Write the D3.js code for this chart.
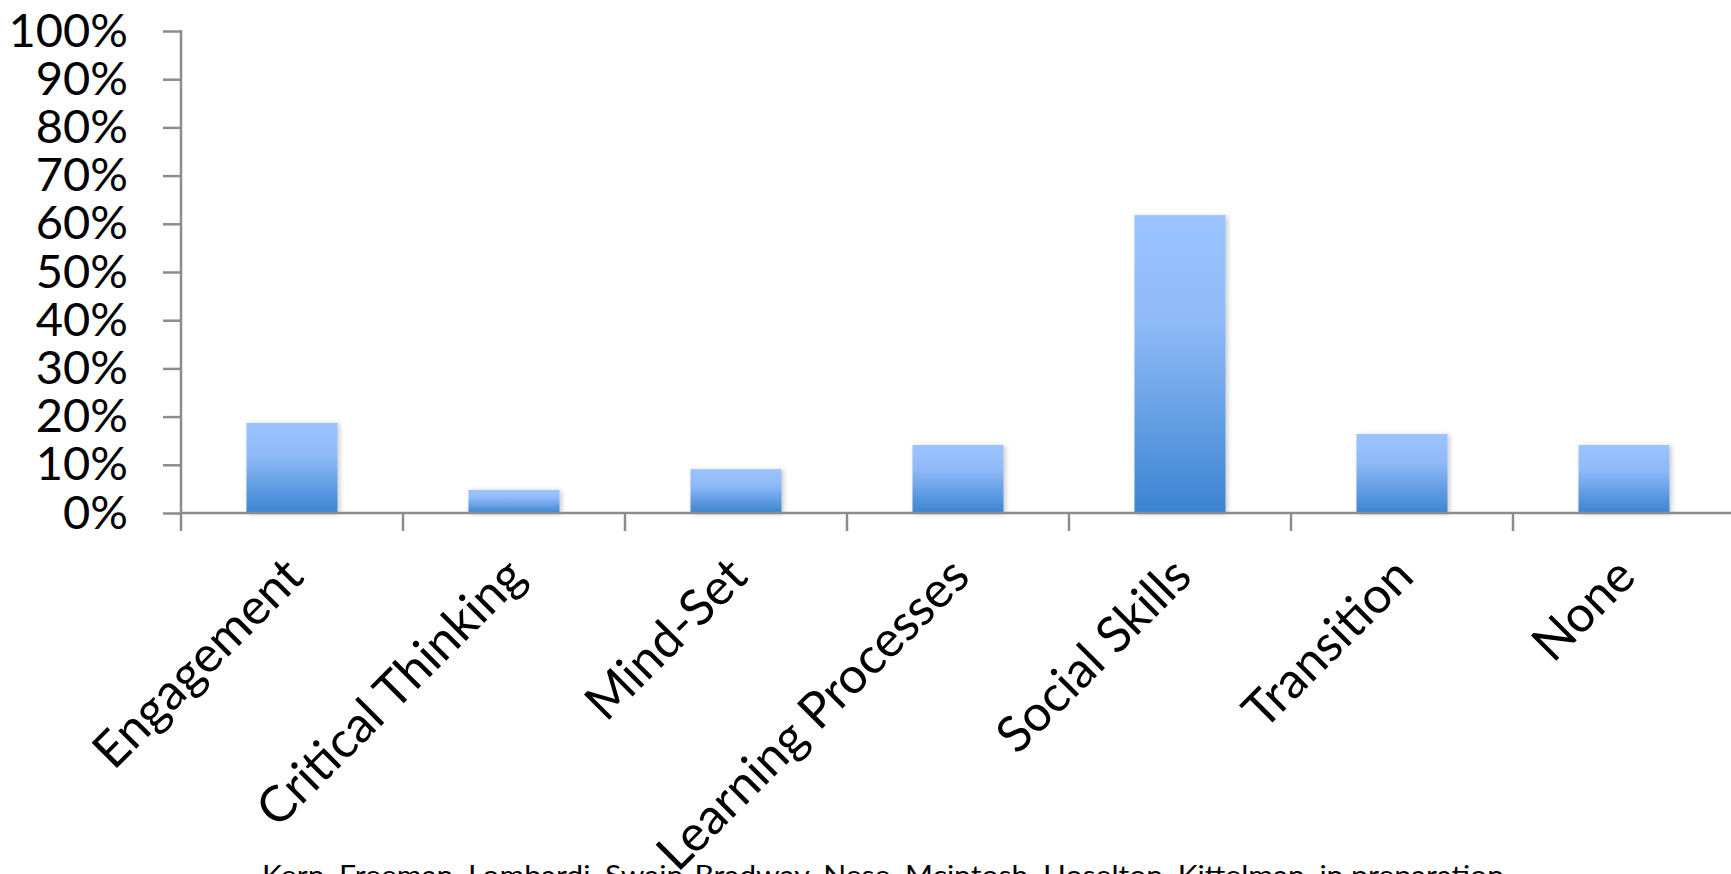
<!DOCTYPE html>
<html>
<head>
<meta charset="utf-8">
<script src="https://cdn.jsdelivr.net/npm/d3@7"></script>
<style>
  html, body { margin: 0; padding: 0; background: #fff; overflow: hidden; }
  svg { display: block; }
</style>
</head>
<body>
<div id="chart"></div>
<script>
// percentage bar chart, one bar per category

var categories = ['Engagement', 'Critical Thinking', 'Mind-Set', 'Learning Processes',
                  'Social Skills', 'Transition', 'None'];
var values = [18.7, 4.8, 9.1, 14.1, 61.8, 16.4, 14.1];
var yTicks = [0, 10, 20, 30, 40, 50, 60, 70, 80, 90, 100];
var footnote = 'Kern,  Freeman, Lombardi, Swain-Bradway, Nese, Mcintosh, Hoselton,  Kittelman, in preparation';

var width = 1731, height = 874;
var plotLeft = 181, plotRight = 1735, plotTop = 31, axisY = 513;
var font = 'Lato, "Open Sans", sans-serif';

var svg = d3.select('#chart').append('svg')
    .attr('width', width)
    .attr('height', height);

var defs = svg.append('defs');
var grad = defs.append('linearGradient')
    .attr('id', 'barFill')
    .attr('x1', 0).attr('y1', 0).attr('x2', 0).attr('y2', 1);
grad.append('stop').attr('offset', '0%').attr('stop-color', '#9cc3ff');
grad.append('stop').attr('offset', '35%').attr('stop-color', '#90bbf8');
grad.append('stop').attr('offset', '100%').attr('stop-color', '#3c84d1');

var shadow = defs.append('filter').attr('id', 'shadow')
    .attr('x', '-20%').attr('y', '-20%').attr('width', '140%').attr('height', '140%');
shadow.append('feDropShadow')
    .attr('dx', 2).attr('dy', 1).attr('stdDeviation', 2.5)
    .attr('flood-color', '#000').attr('flood-opacity', 0.22);

var x = d3.scaleBand()
    .domain(categories)
    .range([plotLeft, plotRight])
    .paddingInner(0.59)
    .paddingOuter(0.295);

var y = d3.scaleLinear()
    .domain([0, 100])
    .range([axisY, plotTop]);

// bars
svg.append('g').selectAll('rect')
    .data(values)
    .enter().append('rect')
    .attr('x', function(d, i) { return x(categories[i]); })
    .attr('y', function(d) { return y(d); })
    .attr('width', x.bandwidth())
    .attr('height', function(d) { return axisY - y(d); })
    .attr('fill', 'url(#barFill)')
    .attr('filter', 'url(#shadow)');

// y axis
var yAxis = svg.append('g')
    .attr('transform', 'translate(' + plotLeft + ',0)')
    .call(d3.axisLeft(y)
        .tickValues(yTicks)
        .tickFormat(function(d) { return d + '%'; })
        .tickSize(18)
        .tickPadding(35));
yAxis.select('.domain').remove();
yAxis.selectAll('line').attr('stroke', '#8c8c8c').attr('stroke-width', 2.5);
yAxis.selectAll('text')
    .attr('font-family', font)
    .attr('font-size', 47)
    .attr('fill', '#000');
yAxis.append('line')
    .attr('x1', 0).attr('x2', 0)
    .attr('y1', y(100) - 1).attr('y2', axisY + 18)
    .attr('stroke', '#8c8c8c').attr('stroke-width', 2.5);

// x axis line and category boundary ticks
var step = x.step();
var bounds = categories.map(function(c) { return x(c) + x.bandwidth() / 2 - step / 2; });
var xg = svg.append('g');
xg.append('line')
    .attr('x1', plotLeft).attr('x2', width)
    .attr('y1', axisY).attr('y2', axisY)
    .attr('stroke', '#8c8c8c').attr('stroke-width', 2.5);
xg.selectAll('.tick')
    .data(bounds.slice(1))
    .enter().append('line')
    .attr('x1', function(d) { return d; }).attr('x2', function(d) { return d; })
    .attr('y1', axisY).attr('y2', axisY + 18)
    .attr('stroke', '#8c8c8c').attr('stroke-width', 2.5);

// rotated category labels
xg.selectAll('text')
    .data(categories)
    .enter().append('text')
    .attr('transform', function(d) {
        return 'translate(' + (x(d) + x.bandwidth() / 2 + 14) + ',' + (axisY + 66) + ') rotate(-45)';
    })
    .attr('text-anchor', 'end')
    .attr('font-family', font)
    .attr('font-size', 50)
    .attr('fill', '#000')
    .text(function(d) { return d; });

// source note, cut off by the bottom edge
svg.append('text')
    .attr('x', 883)
    .attr('y', 885)
    .attr('text-anchor', 'middle')
    .attr('font-family', font)
    .attr('font-size', 27)
    .attr('textLength', 1242)
    .attr('lengthAdjust', 'spacingAndGlyphs')
    .attr('fill', '#000')
    .text(footnote);
</script>
</body>
</html>
